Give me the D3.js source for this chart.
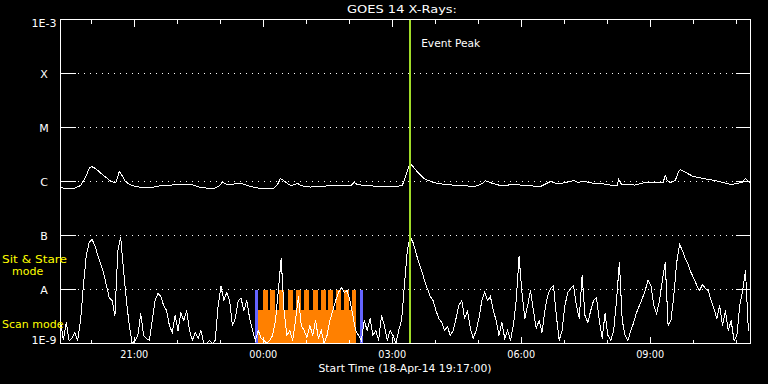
<!DOCTYPE html>
<html><head><meta charset="utf-8">
<script src="https://cdn.jsdelivr.net/npm/d3@7"></script>
<style>
html,body{margin:0;padding:0;background:#000;}
svg{display:block;}
text{font-family:"DejaVu Sans",sans-serif;font-size:11px;}
</style></head><body>
<svg id="chart" width="768" height="384"></svg>
<script>
// ---------- data ----------
const chartTitle = "GOES 14 X-Rays:";
const startTime = "2014-04-18 19:17";
const endTime = "2014-04-19 11:20";
const xAxisTitle = "Start Time (18-Apr-14 19:17:00)";
const xTickTimes = ["2014-04-18 21:00","2014-04-19 00:00","2014-04-19 03:00","2014-04-19 06:00","2014-04-19 09:00"];
const xTickLabels = ["21:00","00:00","03:00","06:00","09:00"];
const yTickValues = [1e-9,1e-8,1e-7,1e-6,1e-5,1e-4,1e-3];
const yTickLabels = ["1E-9","A","B","C","M","X","1E-3"];
const eventPeakTime = "2014-04-19 03:25";
const eventPeakLabel = "Event Peak";
const modeLabels = ["Sit & Stare","mode","Scan mode"];

// long channel (1-8 A): [minutes after start, flux in 1e-6 W/m2]
const longChannel = [
 [0,0.77],[8,0.74],[18,0.74],[28,0.84],[35,1.19],[40,1.74],[43,1.90],[49,1.74],[60,1.29],[70,1.02],
 [77,0.94],[80,1.24],[82,1.53],[85,1.35],[91,0.98],[100,0.84],[114,0.77],[130,0.79],[140,0.84],[154,0.86],
 [174,0.88],[186,0.86],[195,0.77],[214,0.74],[222,0.84],[226,0.98],[230,0.90],[237,0.88],[247,0.92],[255,0.90],
 [265,0.81],[279,0.74],[297,0.74],[303,0.88],[307,1.14],[313,1.00],[321,0.84],[327,0.88],[331,0.92],[335,0.84],
 [349,0.79],[363,0.81],[377,0.84],[391,0.83],[405,0.84],[410,0.96],[414,0.88],[426,0.84],[447,0.81],[467,0.81],
 [477,0.84],[481,1.19],[486,1.90],[488,2.15],[493,1.82],[500,1.41],[509,1.09],[523,0.94],[537,0.88],[558,0.84],
 [579,0.81],[589,0.92],[593,1.04],[599,0.96],[614,0.84],[635,0.88],[649,0.84],[670,0.81],[684,1.00],[694,0.90],
 [705,0.96],[716,1.04],[723,0.96],[730,1.02],[740,0.94],[754,0.92],[767,0.86],[777,0.86],[779,1.11],[783,0.88],
 [802,0.86],[816,0.96],[834,0.94],[841,0.96],[844,1.29],[847,1.04],[851,0.96],[858,1.04],[862,1.47],[865,1.67],
 [875,1.41],[883,1.24],[897,1.14],[917,1.02],[935,0.88],[945,0.92],[952,0.98],[956,1.14],[960,1.00],[963,0.92]
];

// short channel (0.5-4 A): one value every 4 minutes from start, flux in 1e-9 W/m2
const shortCadenceMin = 4;
const shortChannel = [
 2.67,1.14,2.45,1.14,1.24,1.60,1.14,2.67,11.9,42.6,
 74.2,84.3,65.3,42.6,30.3,20.6,11.9,7.10,6.25,3.30,
 52.7,91.8,22.5,6.25,2.15,1.0,1.14,1.41,3.59,1.41,
 1.24,1.14,2.67,6.25,8.43,7.42,5.05,4.08,2.15,1.60,
 3.30,1.74,3.75,2.67,4.08,1.74,1.14,1.60,1.24,1.74,
 1.0,1.0,1.14,1.0,1.14,5.05,11.4,6.25,8.80,6.25,
 2.15,2.90,6.25,6.81,4.08,6.25,2.90,1.74,1.14,1.74,
 1.24,1.14,1.0,1.14,1.41,2.67,9.58,37.5,4.08,1.41,
 1.74,1.14,2.67,7.42,2.15,1.74,1.29,2.15,1.41,2.67,
 1.24,1.74,1.0,1.41,2.67,4.08,6.25,8.80,10.9,8.80,
 9.58,6.25,3.30,1.74,1.41,1.14,2.67,1.74,2.90,1.41,
 1.74,1.14,3.30,2.15,1.14,1.74,1.41,1.0,1.74,2.67,
 11.9,52.7,95.8,74.2,48.4,31.6,22.5,14.7,10.4,7.42,
 6.25,4.08,2.90,2.45,1.74,2.06,1.41,1.74,2.90,5.05,
 6.25,2.90,4.08,1.90,1.24,1.74,2.90,6.25,8.80,6.25,
 7.42,4.08,2.67,1.41,2.45,1.24,1.74,1.14,2.15,6.25,
 40.8,8.80,2.90,5.05,9.58,4.08,1.90,2.67,1.60,4.08,
 7.74,10.4,11.9,3.30,1.14,1.74,5.05,8.80,10.4,11.9,
 5.05,2.90,18.2,3.30,2.45,4.08,6.25,7.10,2.67,1.24,
 3.59,1.41,1.14,1.74,6.25,31.6,2.67,1.41,1.14,1.74,
 2.45,3.75,5.05,6.81,9.58,14.7,11.9,5.05,3.59,6.25,
 14.7,31.6,2.15,2.67,7.74,31.6,68.1,52.7,37.5,29.0,
 20.6,16.0,11.9,9.58,12.4,10.4,9.58,6.25,4.45,2.90,
 5.05,2.15,4.08,1.74,2.67,1.14,1.41,5.05,9.58,22.5,
 1.74
];

// instrument mode (scan / sit & stare) bars
const scanModeSpan = ["2014-04-18 23:53","2014-04-19 02:09"];
const scanModeLevel = 4.1e-9;
const sitStareStarts = ["2014-04-18 23:59","2014-04-19 00:10","2014-04-19 00:22","2014-04-19 00:34","2014-04-19 00:45","2014-04-19 00:57",
  "2014-04-19 01:09","2014-04-19 01:20","2014-04-19 01:31","2014-04-19 01:42","2014-04-19 01:53","2014-04-19 02:04"];
const sitStareEnds = ["2014-04-19 00:06","2014-04-19 00:17","2014-04-19 00:29","2014-04-19 00:41","2014-04-19 00:52","2014-04-19 01:04",
  "2014-04-19 01:16","2014-04-19 01:27","2014-04-19 01:38","2014-04-19 01:49","2014-04-19 02:00","2014-04-19 02:09"];
const sitStareLevel = 1e-8;
const modeMarkers = ["2014-04-18 23:51","2014-04-19 02:17"];

// ---------- drawing ----------
const parse = d3.timeParse("%Y-%m-%d %H:%M");
const t0 = parse(startTime), t1 = parse(endTime);
const x = d3.scaleTime().domain([t0, t1]).range([60.5, 750.5]);
const y = d3.scaleLog().domain([1e-9, 1e-3]).range([343.5, 19.5]).clamp(true);
const L = 60.5, R = 750.5, T = 19.5, B = 343.5;

const svg = d3.select("#chart").attr("shape-rendering", "crispEdges");
svg.append("rect").attr("width", 768).attr("height", 384).attr("fill", "#000");

const white = "#ffffff", orange = "#ff8000", blue = "#6464ff", green = "#a0dc28", yellow = "#ffff00";

function label(xp, yp, str, fill, width, anchor) {
  const t = svg.append("text").attr("x", xp).attr("y", yp).attr("fill", fill)
    .attr("text-anchor", anchor || "start").text(str);
  if (width) t.attr("textLength", width).attr("lengthAdjust", "spacingAndGlyphs");
  return t;
}

// mode bars
const g = svg.append("g");
const sx0 = x(parse(scanModeSpan[0])), sx1 = x(parse(scanModeSpan[1]));
g.append("rect").attr("x", sx0).attr("y", y(scanModeLevel)).attr("width", sx1 - sx0)
  .attr("height", y(1e-9) - y(scanModeLevel)).attr("fill", orange);
g.selectAll("rect.tooth").data(sitStareStarts.map((s, i) => [parse(s), parse(sitStareEnds[i])]))
  .join("rect").attr("class", "tooth")
  .attr("x", d => x(d[0])).attr("width", d => x(d[1]) - x(d[0]))
  .attr("y", y(sitStareLevel)).attr("height", y(scanModeLevel) - y(sitStareLevel) + 1)
  .attr("fill", orange);
g.selectAll("line.marker").data(modeMarkers.map(parse)).join("line").attr("class", "marker")
  .attr("x1", d => x(d)).attr("x2", d => x(d)).attr("y1", y(1e-8)).attr("y2", y(1e-9))
  .attr("stroke", blue).attr("stroke-width", 3);

// grid dotted lines & y ticks
yTickValues.forEach((v, i) => {
  const yy = y(v);
  if (i > 0 && i < yTickValues.length - 1) {
    svg.append("line").attr("x1", 78).attr("x2", 735).attr("y1", yy).attr("y2", yy)
      .attr("stroke", white).attr("stroke-dasharray", "1,5");
  }
  svg.append("line").attr("x1", L).attr("x2", L + 15).attr("y1", yy).attr("y2", yy).attr("stroke", white);
  svg.append("line").attr("x1", R - 15).attr("x2", R).attr("y1", yy).attr("y2", yy).attr("stroke", white);
  const dy = i === 0 ? 1 : (i === yTickValues.length - 1 ? 8 : 4.5);
  label(44, yy - 0.5 + dy, yTickLabels[i], white, null, "middle");
});

// x ticks (hourly, longer every 3 h)
d3.timeHour.every(1).range(t0, t1).forEach(h => {
  const xx = x(h);
  const len = h.getHours() % 3 === 0 ? 7 : 4;
  svg.append("line").attr("x1", xx).attr("x2", xx).attr("y1", T).attr("y2", T + len).attr("stroke", white);
  svg.append("line").attr("x1", xx).attr("x2", xx).attr("y1", B).attr("y2", B - len).attr("stroke", white);
});
xTickTimes.forEach((s, i) => {
  label(x(parse(s)), 358, xTickLabels[i], white, 28, "middle");
});

// data lines
const shortData = shortChannel.map((v, i) => [d3.timeMinute.offset(t0, i * shortCadenceMin), v * 1e-9]);
const longData = longChannel.map(d => [d3.timeMinute.offset(t0, d[0]), d[1] * 1e-6]);
const line = d3.line().x(d => x(d[0])).y(d => y(d[1]));
svg.append("path").datum(longData).attr("d", line).attr("fill", "none").attr("stroke", white).attr("stroke-width", 1);
svg.append("path").datum(shortData).attr("d", line).attr("fill", "none").attr("stroke", white).attr("stroke-width", 1);

// event peak
const ex = x(parse(eventPeakTime));
svg.append("line").attr("x1", ex).attr("x2", ex).attr("y1", T).attr("y2", B).attr("stroke", green).attr("stroke-width", 2);
label(ex + 11, 47, eventPeakLabel, white, 59);

// frame
svg.append("rect").attr("x", L).attr("y", T).attr("width", R - L).attr("height", B - T)
  .attr("fill", "none").attr("stroke", white);

// texts
label(402, 13, chartTitle, white, 110, "middle");
label(405, 372, xAxisTitle, white, 173, "middle");
label(2, 263, modeLabels[0], yellow, 65);
label(12, 275, modeLabels[1], yellow);
label(2, 328, modeLabels[2], yellow);
</script>
</body></html>
